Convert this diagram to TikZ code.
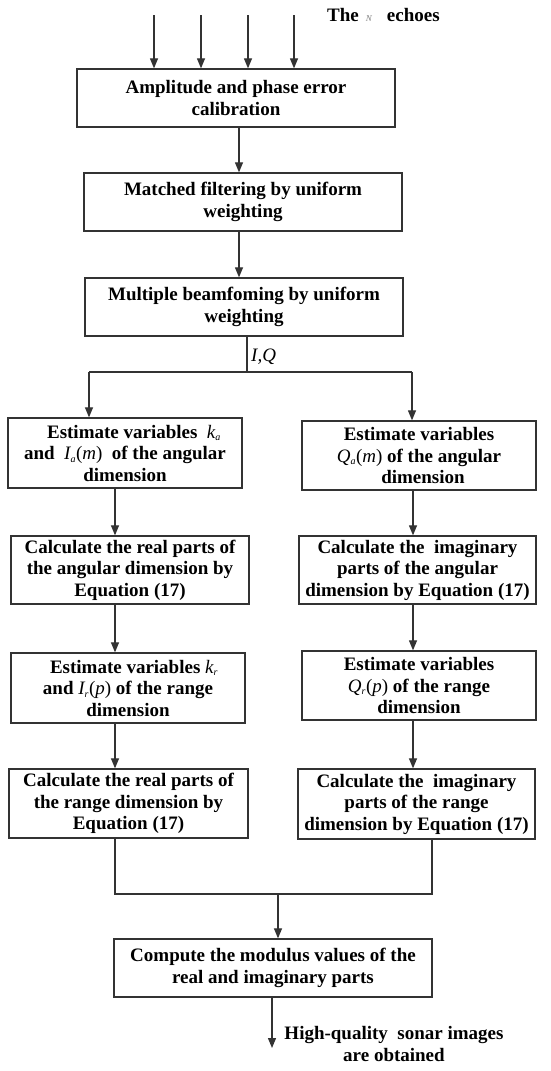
\documentclass[tikz,border=0pt]{standalone}
\usepackage{fontspec}
\setmainfont{Liberation Serif}
\usetikzlibrary{arrows.meta}
\definecolor{linec}{HTML}{333333}
\newcommand{\vv}[1]{{\mdseries\itshape #1}}
\newcommand{\vs}[2]{{\mdseries\itshape #1\textsubscript{\fontsize{10}{10}\selectfont #2}}}
\newcommand{\pa}[1]{{\mdseries(\textit{#1})}}
\begin{document}
\begin{tikzpicture}[x=1pt,y=-1pt,
  box/.style={draw=linec, line width=1.3pt, align=center, inner sep=0pt,
    font=\fontsize{19}{21.5}\selectfont\bfseries},
  wide/.style={minimum width=318pt, minimum height=58pt},
  conn/.style={draw=linec, line width=1.2pt, line join=miter},
  arr/.style={conn, -{Triangle[length=10pt,width=8pt]}},
  lbl/.style={inner sep=0pt, font=\fontsize{19}{21.5}\selectfont\bfseries, align=center}
]
\path[use as bounding box] (0,0) rectangle (550,1071);

% main column
\node[box, wide] (b1) at (236,98) {Amplitude and phase error\\calibration};
\node[box, wide] (b2) at (243,202) {Matched filtering by uniform\\weighting};
\node[box, wide] (b3) at (244,307) {Multiple beamfoming by uniform\\weighting};

% left column
\node[box, minimum width=234pt, minimum height=70pt] (La) at (125,453)
  {\hspace{18pt}Estimate variables\ \ \vs{k}{a}\\and\ \ \vs{I}{a}\pa{m}\ \ of the angular\\dimension};
\node[box, minimum width=238pt, minimum height=68pt] (L2) at (130,570)
  {Calculate the real parts of\\the angular dimension by\\Equation (17)};
\node[box, minimum width=234pt, minimum height=70pt] (L3) at (128,688)
  {\hspace{12pt}Estimate variables \vs{k}{r}\\and \vs{I}{r}\pa{p} of the range\\dimension};
\node[box, minimum width=239pt, minimum height=69pt] (L4) at (128.5,803.5)
  {Calculate the real parts of\\the range dimension by\\Equation (17)};

% right column
\node[box, minimum width=234pt, minimum height=69pt] (Ra) at (419,455.5)
  {Estimate variables\\\vs{Q}{a}\pa{m} of the angular\hspace{10pt}\\\hspace{8pt}dimension};
\node[box, minimum width=237pt, minimum height=68pt] (R2) at (417.5,570)
  {Calculate the\ \ imaginary\\parts of the angular\\dimension by Equation (17)};
\node[box, minimum width=234pt, minimum height=69pt] (R3) at (419,685.5)
  {Estimate variables\\\vs{Q}{r}\pa{p} of the range\\dimension};
\node[box, minimum width=237pt, minimum height=70pt] (R4) at (416.5,804)
  {Calculate the\ \ imaginary\\parts of the range\\dimension by Equation (17)};

% final
\node[box, wide] (fin) at (273,968) {Compute the modulus values of the\\real and imaginary parts};

% labels
\node[lbl, anchor=west] (echo) at (327,15)
  {The\hspace{7pt}{\mdseries\itshape\fontsize{9}{9}\selectfont\color{gray}N}\hspace{15pt}echoes};
\node[inner sep=0pt, anchor=west, font=\fontsize{19}{19}\selectfont\itshape] (iq) at (251,357) {I,Q};
\node[lbl] (res) at (394,1044) {High-quality\ \ sonar images\\are obtained};

% top arrows
\coordinate (t1) at (154,15);
\coordinate (t2) at (201,15);
\coordinate (t3) at (248,15);
\coordinate (t4) at (294,15);
\foreach \t in {t1,t2,t3,t4} \draw[arr] (\t) -- (\t |- b1.north);

% main chain
\coordinate (cx) at (239,0);
\draw[arr] (b1.south -| cx) -- (b2.north -| cx);
\draw[arr] (b2.south -| cx) -- (b3.north -| cx);

% split
\coordinate (sp) at (247,372);
\coordinate (spl) at (89,372);
\coordinate (spr) at (412,372);
\draw[conn] (b3.south -| sp) -- (sp);
\draw[conn] (spl) -- (spr);
\draw[arr] (spl) -- (spl |- La.north);
\draw[arr] (spr) -- (spr |- Ra.north);

% left chain
\coordinate (lx) at (115,0);
\draw[arr] (La.south -| lx) -- (L2.north -| lx);
\draw[arr] (L2.south -| lx) -- (L3.north -| lx);
\draw[arr] (L3.south -| lx) -- (L4.north -| lx);

% right chain
\coordinate (rx) at (413,0);
\draw[arr] (Ra.south -| rx) -- (R2.north -| rx);
\draw[arr] (R2.south -| rx) -- (R3.north -| rx);
\draw[arr] (R3.south -| rx) -- (R4.north -| rx);

% merge
\coordinate (ml) at (115,894);
\coordinate (mr) at (432,894);
\coordinate (mm) at (278,894);
\draw[conn] (L4.south -| ml) -- (ml) -- (mr) -- (R4.south -| mr);
\draw[arr] (mm) -- (fin.north -| mm);

% output
\coordinate (outp) at (272,1048);
\draw[arr] (fin.south -| outp) -- (outp);
\end{tikzpicture}
\end{document}
